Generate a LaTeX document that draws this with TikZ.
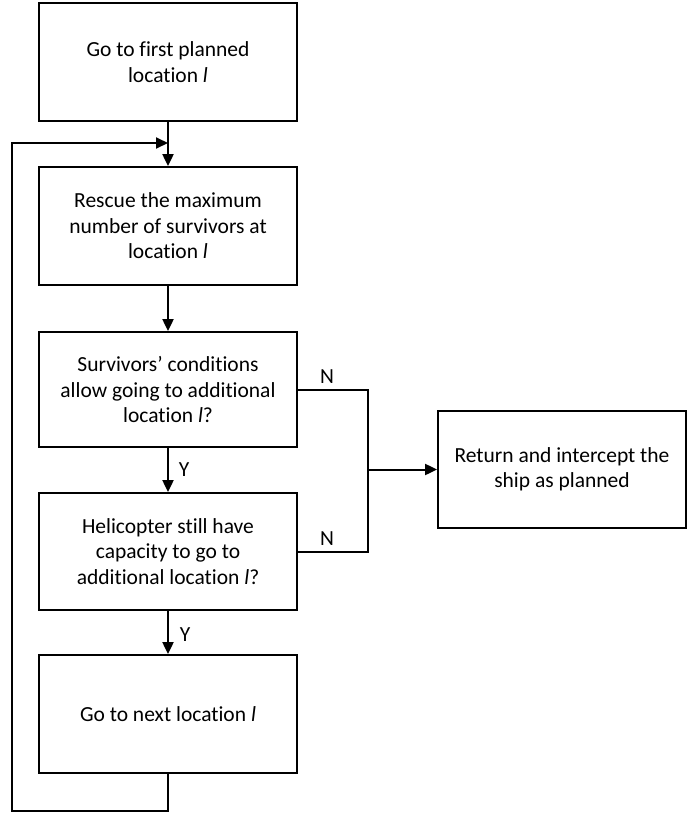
\documentclass[tikz,border=0pt]{standalone}
\usepackage{fontspec}
\setmainfont{Carlito}[Ligatures=NoCommon]
\usetikzlibrary{arrows.meta}
\begin{document}
\begin{tikzpicture}[x=1pt,y=-1pt,
  every node/.style={font=\fontsize{21.5}{25.5}\selectfont},
  stepbox/.style={draw, line width=1.8pt, rectangle, minimum width=258pt,
    minimum height=118pt, align=center, inner sep=0pt},
  endbox/.style={stepbox, minimum width=248pt, minimum height=117pt},
  link/.style={line width=2pt, -{Triangle[length=12pt,width=11pt]}},
  plain/.style={line width=2pt},
  tag/.style={inner sep=0pt}]
  \useasboundingbox (0,0) rectangle (687,817);

  % main column
  \node[stepbox] (first) at (168,62) {Go to first planned\\location \textit{l}};
  \node[stepbox] (rescue) at (168,226) {Rescue the maximum\\number of survivors at\\location \textit{l}};
  \node[stepbox, minimum height=115pt] (cond) at (168,389.5) {Survivors’ conditions\\allow going to additional\\location \textit{l}?};
  \node[stepbox, minimum height=117pt] (heli) at (168,551.5) {Helicopter still have\\capacity to go to\\additional location \textit{l}?};
  \node[stepbox] (next) at (168,714) {Go to next location \textit{l}};

  % exit box
  \node[endbox] (ret) at (562,469.5) {Return and intercept the\\ship as planned};

  % junction points
  \coordinate (merge) at (168,143);
  \coordinate (loopbot) at (12,811);
  \coordinate (looptop) at (12,143);
  \coordinate (nbus) at (368,469.5);

  % forward flow
  \draw[plain] (first.south) -- (merge);
  \draw[link] (merge) -- (rescue.north);
  \draw[link] (rescue.south) -- (cond.north);
  \draw[link] (cond.south) -- (heli.north);
  \draw[link] (heli.south) -- (next.north);

  % loop back to the rescue step
  \draw[link] (next.south) |- (loopbot) -- (looptop) -- (merge);

  % "no" branches to the exit box
  \draw[plain] (cond.east) -| (nbus) |- (heli.east);
  \draw[link] (nbus) -- (ret.west);

  % branch labels
  \node[tag] (y1) at (184,470) {Y};
  \node[tag] (y2) at (185,635) {Y};
  \node[tag] (n1) at (327,377) {N};
  \node[tag] (n2) at (327,539) {N};
\end{tikzpicture}
\end{document}
